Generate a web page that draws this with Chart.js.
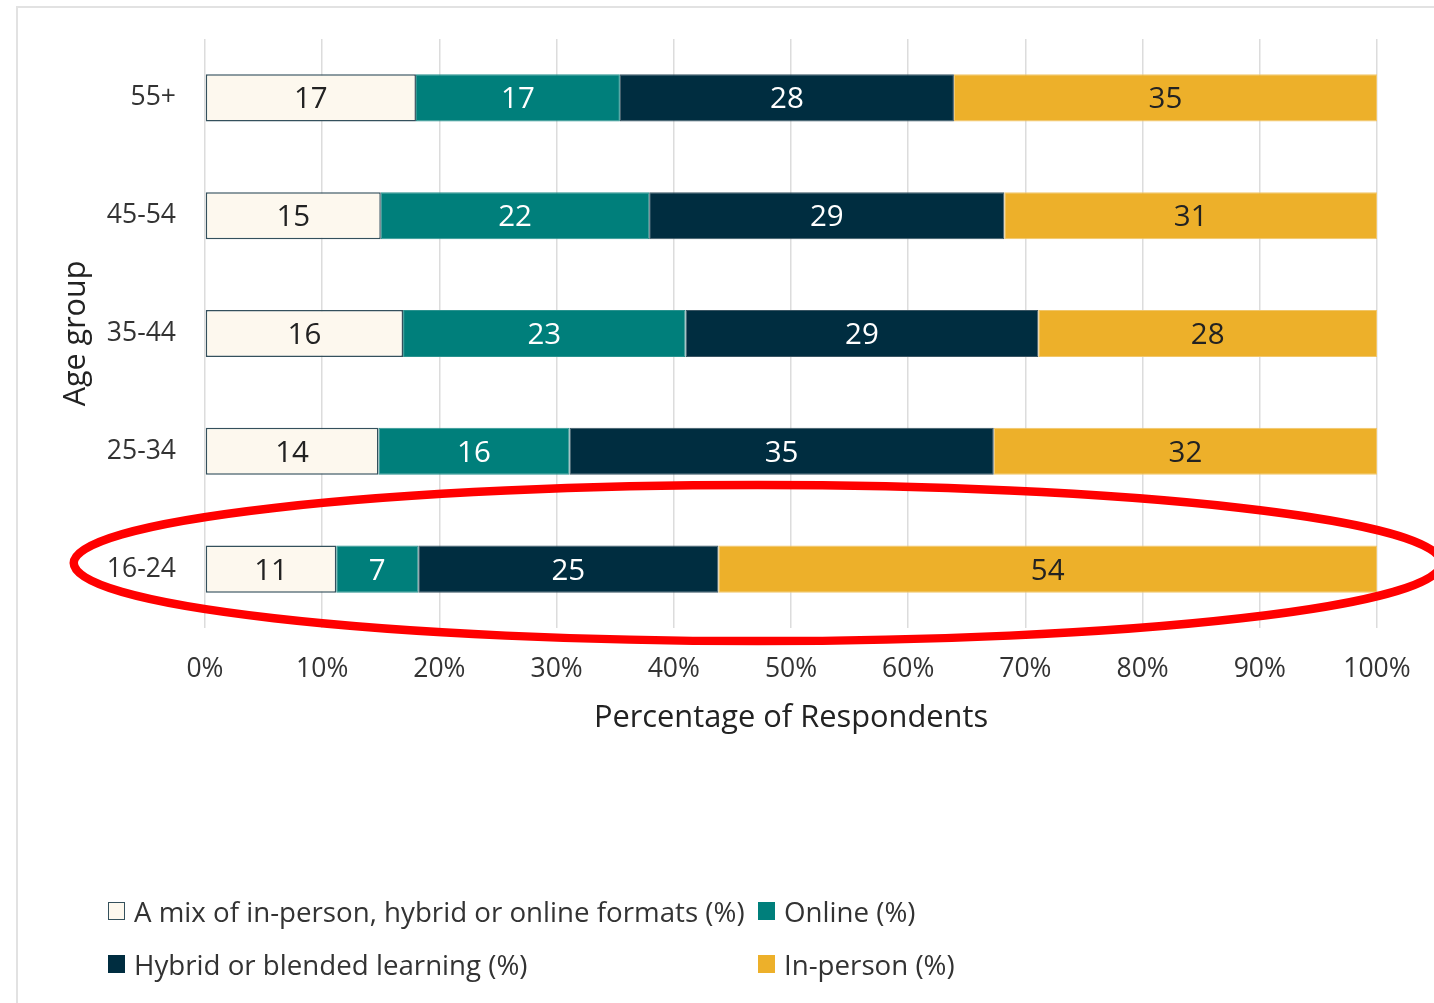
<!DOCTYPE html>
<html>
<head>
<meta charset="utf-8">
<script src="https://cdn.jsdelivr.net/npm/chart.js@4.4.1/dist/chart.umd.min.js"></script>
<style>
  html, body { margin: 0; padding: 0; background: #fff; overflow: hidden; }
  #wrap { position: relative; width: 1434px; height: 1003px; }
  #frame { position: absolute; left: 16px; top: 6px; width: 1500px; height: 1100px;
           border-left: 2px solid #e2e2e2; border-top: 2px solid #e2e2e2; }
  #chart { position: absolute; left: 0; top: 0; }
  #legend { position: absolute; left: 108px; top: 893px; font-family: "Open Sans", sans-serif;
            font-size: 27.7px; color: #333; display: grid; grid-template-columns: 650px 300px; row-gap: 17px; }
  .item { display: flex; align-items: center; height: 36px; white-space: nowrap; }
  .box { width: 17px; height: 18px; margin-right: 9px; box-sizing: border-box; }
</style>
</head>
<body>
<div id="wrap">
  <div id="frame"></div>
  <canvas id="chart" width="1434" height="1003"></canvas>
  <div id="legend"></div>
</div>
<script>
var ageGroups = ["55+", "45-54", "35-44", "25-34", "16-24"];
var seriesNames = ["A mix of in-person, hybrid or online formats (%)", "Online (%)", "Hybrid or blended learning (%)", "In-person (%)"];

// printed labels
var mixed = [17, 15, 16, 14, 11];
var online = [17, 22, 23, 16, 7];
var hybrid = [28, 29, 29, 35, 25];
var inPerson = [35, 31, 28, 32, 54];

// bar lengths as drawn (share of the row, %)
var mixedShare = [18.0, 15.0, 16.9, 14.8, 11.2];
var onlineShare = [17.4, 22.9, 24.1, 16.3, 7.0];
var hybridShare = [28.5, 30.3, 30.1, 36.2, 25.6];
var inPersonShare = [36.1, 31.8, 28.9, 32.7, 56.2];

var xTicks = [0, 10, 20, 30, 40, 50, 60, 70, 80, 90, 100];

var colors = ["#fdf8ee", "#007f7b", "#002d40", "#edb02a"];
var borders = ["#34505c", "#2a928e", "#3a5563", "#f1c66a"];
var labelColors = ["#222", "#ffffff", "#ffffff", "#222"];
var labels = [mixed, online, hybrid, inPerson];
var shares = [mixedShare, onlineShare, hybridShare, inPersonShare];

var FONT = '"Open Sans", sans-serif';

var datasets = shares.map(function(vals, k) {
    return {
        label: seriesNames[k],
        data: vals,
        printed: labels[k],
        backgroundColor: colors[k],
        borderColor: borders[k],
        borderWidth: k === 0 ? 1.5 : 1,
        borderSkipped: false,
        barPercentage: 0.8,
        categoryPercentage: 0.5
    };
});

var valueLabels = {
    id: 'valueLabels',
    afterDatasetsDraw: function(chart) {
        var ctx = chart.ctx;
        ctx.save();
        ctx.font = '29.5px ' + FONT;
        ctx.textAlign = 'center';
        ctx.textBaseline = 'middle';
        chart.data.datasets.forEach(function(ds, k) {
            chart.getDatasetMeta(k).data.forEach(function(bar, i) {
                ctx.fillStyle = labelColors[k];
                ctx.fillText(String(ds.printed[i]), (bar.x + bar.base) / 2, bar.y + 2);
            });
        });
        ctx.restore();
    }
};

// red highlight ring around the youngest group
var highlight = {
    id: 'highlight',
    afterDatasetsDraw: function(chart) {
        var xs = chart.scales.x, ys = chart.scales.y;
        var left = xs.getPixelForValue(-11.2), right = xs.getPixelForValue(105.5);
        var cy = ys.getPixelForValue(ageGroups.indexOf("16-24")) - 6;
        var ctx = chart.ctx;
        ctx.save();
        ctx.strokeStyle = '#ff0000';
        ctx.lineWidth = 8.5;
        ctx.beginPath();
        ctx.ellipse((left + right) / 2, cy, (right - left) / 2, 78, 0, 0, Math.PI * 2);
        ctx.stroke();
        ctx.restore();
    }
};

var ctx = document.getElementById("chart").getContext('2d');
var mychart = new Chart(ctx, {
    type: 'bar',
    data: { labels: ageGroups, datasets: datasets },
    options: {
        indexAxis: 'y',
        responsive: false,
        animation: false,
        layout: { padding: { left: 54, right: 57, top: 39, bottom: 262 } },
        plugins: { legend: { display: false }, tooltip: { enabled: false } },
        scales: {
            x: {
                stacked: true,
                min: 0,
                max: 100,
                afterBuildTicks: function(scale) {
                    scale.ticks = xTicks.map(function(v) { return { value: v }; });
                },
                afterFit: function(scale) {
                    scale.height = 113;
                    scale.paddingLeft = 0;
                    scale.paddingRight = 0;
                },
                border: { display: false },
                grid: { color: '#dcdcdc', lineWidth: 1.5, drawTicks: false },
                ticks: {
                    padding: 26,
                    color: '#333',
                    font: { family: FONT, size: 26.5 },
                    maxRotation: 0,
                    callback: function(v) { return v + '%'; }
                },
                title: {
                    display: true,
                    text: 'Percentage of Respondents',
                    color: '#222',
                    font: { family: FONT, size: 30.8 }
                }
            },
            y: {
                stacked: true,
                afterFit: function(scale) {
                    scale.width = 151;
                    scale.paddingTop = 0;
                    scale.paddingBottom = 0;
                },
                border: { display: false },
                grid: { display: false },
                ticks: {
                    padding: 21,
                    color: '#333',
                    font: { family: FONT, size: 26.5 }
                },
                title: {
                    display: true,
                    text: 'Age group',
                    color: '#222',
                    font: { family: FONT, size: 30.5 }
                }
            }
        }
    },
    plugins: [valueLabels, highlight]
});

// legend laid out as a two column grid
var legend = document.getElementById("legend");
[0, 1, 2, 3].forEach(function(k) {
    var item = document.createElement("div");
    item.className = "item";
    var box = document.createElement("span");
    box.className = "box";
    box.style.background = colors[k];
    box.style.border = k === 0 ? "1.5px solid #34505c" : "none";
    item.appendChild(box);
    item.appendChild(document.createTextNode(seriesNames[k]));
    legend.appendChild(item);
});
</script>
</body>
</html>
